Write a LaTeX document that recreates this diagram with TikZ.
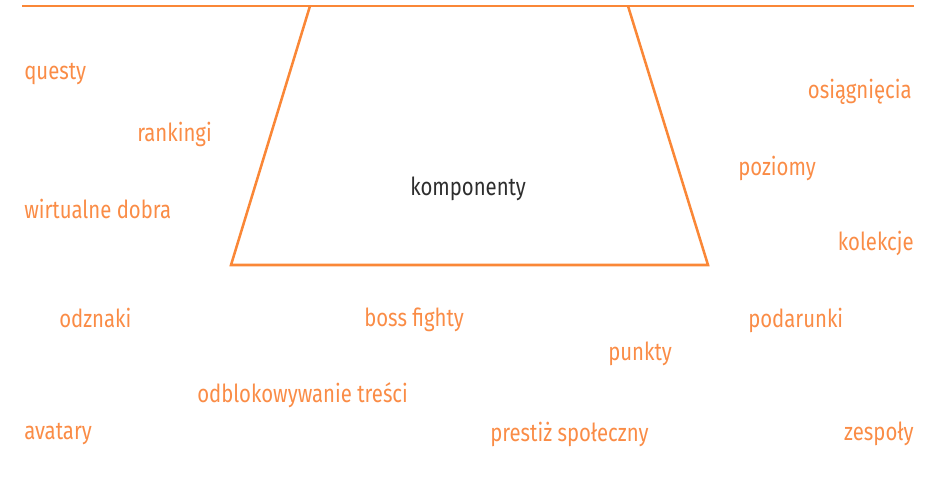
\documentclass[tikz,border=0pt]{standalone}
\usepackage{fontspec}
\setmainfont[FakeStretch=0.82]{Fira Sans}
\usepackage{tikz}

\definecolor{gamorange}{RGB}{250,140,70}
\definecolor{lineorange}{RGB}{250,135,55}
\definecolor{darktext}{RGB}{45,45,45}

\tikzset{
  element/.style={text=gamorange, font=\fontsize{18.6}{22}\selectfont, inner sep=0pt},
  element left/.style={element, anchor=west},
  element right/.style={element, anchor=east}
}

\begin{document}
\begin{tikzpicture}[x=0.75pt, y=-0.75pt]
        \useasboundingbox (0,0) rectangle (938,485);

         % funnel
        \draw[lineorange, line width=1.9pt] (22,6) -- (914,6);
        \draw[lineorange, line width=1.9pt, line join=miter] (310,6) -- (231,265) -- (708,265) -- (628,6);
        \node[text=darktext, font=\fontsize{18.6}{22}\selectfont, inner sep=0pt, anchor=west] (komp) at (410,189) {komponenty};

         % left column
        \node[element left] (questy) at (24,74) {questy};
        \node[element left] (rankingi) at (137,134) {rankingi};
        \node[element left] (dobra) at (24,209) {wirtualne dobra};
        \node[element left] (odznaki) at (59,318) {odznaki};
        \node[element left] (avatary) at (24,434) {avatary};

         % middle
        \node[element left] (odblok) at (197,395) {odblokowywanie treści};
        \node[element left] (boss) at (364,320) {boss fighty};
        \node[element left] (punkty) at (608,354) {punkty};
        \node[element left] (prestiz) at (490,434) {prestiż społeczny};

         % right column
        \node[element right] (osiagniecia) at (912,92) {osiągnięcia};
        \node[element left] (poziomy) at (738,168) {poziomy};
        \node[element right] (kolekcje) at (914,243) {kolekcje};
        \node[element left] (podarunki) at (748,320) {podarunki};
        \node[element right] (zespoly) at (914,434) {zespoły};
\end{tikzpicture}
\end{document}
